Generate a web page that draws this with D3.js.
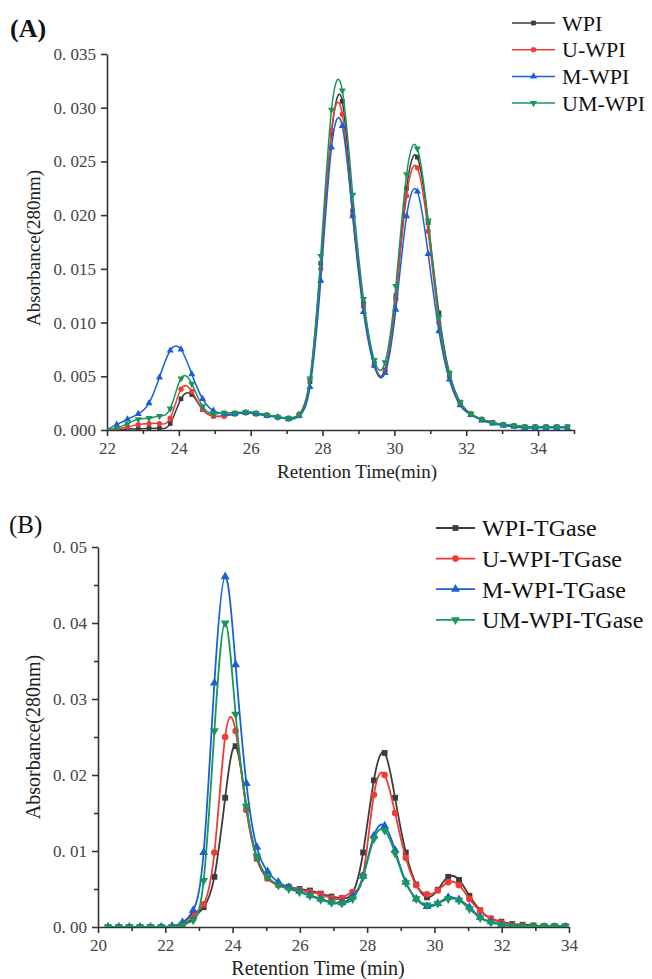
<!DOCTYPE html>
<html><head><meta charset="utf-8">
<script src="https://cdn.jsdelivr.net/npm/d3@7/dist/d3.min.js"></script>
<style>body{margin:0;background:#fff}svg{display:block}</style>
</head><body>
<svg id="c" width="652" height="979"></svg>
<script>
// ---------- Panel A data ----------
const timesA = [21.97,22.27,22.57,22.87,23.17,23.46,23.76,24.06,24.36,24.66,24.96,25.26,25.56,25.86,26.15,26.45,26.75,27.05,27.35,27.65,27.95,28.25,28.55,28.84,29.14,29.44,29.74,30.04,30.34,30.64,30.94,31.24,31.53,31.83,32.13,32.43,32.73,33.03,33.33,33.63,33.92,34.22,34.52,34.82];
const wpiA  = [0,0,0.0001,0.0001,0.00015,0.00015,0.0006,0.0029,0.0033,0.0019,0.0013,0.0013,0.0015,0.0016,0.0015,0.0014,0.0012,0.0011,0.0014,0.0045,0.0155,0.0276,0.0306,0.0204,0.0118,0.0062,0.0056,0.0125,0.0225,0.0254,0.0193,0.0109,0.0053,0.0026,0.0015,0.0010,0.0007,0.0005,0.0004,0.0003,0.0003,0.0003,0.0003,0.0003];
const uwpiA = [0,0.0001,0.0003,0.0005,0.0006,0.0006,0.0011,0.0038,0.0036,0.0019,0.0013,0.0013,0.0015,0.0016,0.0015,0.0014,0.0012,0.0011,0.0015,0.0047,0.0150,0.0279,0.0294,0.0200,0.0115,0.0060,0.0055,0.0122,0.0218,0.0244,0.0185,0.0100,0.0050,0.0025,0.0015,0.0010,0.0007,0.0005,0.0004,0.0003,0.0003,0.0003,0.0003,0.0003];
const mwpiA = [0,0.0005,0.0010,0.0015,0.0025,0.0049,0.0074,0.0075,0.0052,0.0029,0.0018,0.0015,0.0015,0.0016,0.0015,0.0013,0.0012,0.0010,0.0013,0.0040,0.0139,0.0263,0.0283,0.0199,0.0110,0.0060,0.0053,0.0112,0.0199,0.0222,0.0164,0.0092,0.0047,0.0023,0.0014,0.0009,0.0006,0.0004,0.0003,0.0002,0.0002,0.0002,0.0002,0.0002];
const umwpiA= [0,0.0002,0.0006,0.0010,0.0011,0.0013,0.0020,0.0048,0.0043,0.0022,0.0015,0.0016,0.0016,0.0017,0.0016,0.0014,0.0012,0.0011,0.0014,0.0048,0.0162,0.0298,0.0316,0.0219,0.0122,0.0065,0.0063,0.0134,0.0238,0.0262,0.0195,0.0105,0.0053,0.0026,0.0015,0.0010,0.0007,0.0005,0.0004,0.0003,0.0003,0.0003,0.0003,0.0003];
const namesA = ["WPI","U-WPI","M-WPI","UM-WPI"];
const xTicksA = [22,24,26,28,30,32,34];
const yTicksA = [0,0.005,0.010,0.015,0.020,0.025,0.030,0.035];

// ---------- Panel B data ----------
const timesB = [20.30,20.62,20.93,21.25,21.56,21.88,22.20,22.51,22.83,23.14,23.46,23.78,24.09,24.41,24.72,25.04,25.36,25.67,25.99,26.30,26.62,26.94,27.25,27.57,27.88,28.20,28.52,28.83,29.15,29.46,29.78,30.10,30.41,30.73,31.04,31.36,31.68,31.99,32.31,32.62,32.94,33.26,33.57,33.89];
const wpiB  = [0,0,0,0,0,0,0,0.0002,0.0012,0.0026,0.0066,0.0170,0.0238,0.0158,0.0090,0.0064,0.0056,0.0053,0.0050,0.0048,0.0044,0.0040,0.0038,0.0045,0.0098,0.0193,0.0229,0.0170,0.0098,0.0056,0.0039,0.0049,0.0066,0.0062,0.0041,0.0022,0.0011,0.0007,0.0004,0.0003,0.0002,0.0001,0.0001,0.0001];
const uwpiB = [0,0,0,0,0,0,0,0.0003,0.0017,0.0030,0.0098,0.0250,0.0258,0.0154,0.0091,0.0064,0.0055,0.0052,0.0049,0.0046,0.0043,0.0038,0.0038,0.0046,0.0068,0.0174,0.0200,0.0150,0.0091,0.0055,0.0043,0.0048,0.0059,0.0055,0.0037,0.0021,0.0011,0.0006,0.0003,0.0002,0.0001,0.0001,0.0001,0.0001];
const mwpiB = [0,0,0,0,0,0,0.0001,0.0006,0.0022,0.0098,0.0321,0.0461,0.0345,0.0189,0.0105,0.0073,0.0059,0.0052,0.0047,0.0042,0.0037,0.0033,0.0032,0.0040,0.0067,0.0120,0.0133,0.0101,0.0059,0.0037,0.0027,0.0031,0.0039,0.0036,0.0026,0.0013,0.0007,0.0003,0.0001,0,0,0,0,0];
const umwpiB= [0,0,0,0,0,0,0,0.0003,0.0009,0.0061,0.0258,0.0400,0.0280,0.0159,0.0093,0.0066,0.0055,0.0050,0.0046,0.0041,0.0036,0.0032,0.0031,0.0037,0.0066,0.0116,0.0127,0.0097,0.0058,0.0037,0.0029,0.0031,0.0037,0.0035,0.0024,0.0012,0.0006,0.0003,0.0001,0.0001,0.0001,0.0001,0.0001,0.0001];
const namesB = ["WPI-TGase","U-WPI-TGase","M-WPI-TGase","UM-WPI-TGase"];
const xTicksB = [20,22,24,26,28,30,32,34];
const yTicksB = [0,0.01,0.02,0.03,0.04,0.05];

const colors = ["#3c3c3c","#ee3b36","#1a5fd4","#17975a"];
const symbols = [d3.symbolSquare, d3.symbolCircle, d3.symbolTriangle, d3.symbolTriangle];
const rotations = [0,0,0,180];

const svg = d3.select("#c");
const SERIF = "'Liberation Serif','Times New Roman',serif";

function panel(cfg){
  const g = svg.append("g");
  const x = d3.scaleLinear().domain(cfg.xDomain).range([cfg.x0, cfg.x1]);
  const y = d3.scaleLinear().domain(cfg.yDomain).range([cfg.y0, cfg.y1]);
  const clipId = "clip"+cfg.id;
  svg.append("clipPath").attr("id",clipId).append("rect")
    .attr("x",cfg.x0).attr("y",cfg.y1-20).attr("width",cfg.x1-cfg.x0+4).attr("height",cfg.y0-cfg.y1+20);

  g.append("g").attr("transform",`translate(0,${cfg.y0})`)
    .call(d3.axisBottom(x).tickValues(cfg.xTicks).tickSize(6).tickSizeOuter(0).tickPadding(6).tickFormat(d3.format("d")));
  const minorX = d3.range(cfg.xDomain[0]+1, cfg.xDomain[1]+0.01, 2);
  g.append("g").attr("transform",`translate(0,${cfg.y0})`)
    .call(d3.axisBottom(x).tickValues(minorX).tickSize(4).tickSizeOuter(0).tickFormat(""))
    .call(a=>a.select(".domain").remove());
  g.append("g").attr("transform",`translate(${cfg.x0},0)`)
    .call(d3.axisLeft(y).tickValues(cfg.yTicks).tickSize(6).tickSizeOuter(0).tickPadding(5)
      .tickFormat(d=>d3.format(cfg.fmt)(d).replace(".",". ")));
  if(cfg.minorY){
    g.append("g").attr("transform",`translate(${cfg.x0},0)`)
      .call(d3.axisLeft(y).tickValues(cfg.minorY).tickSize(4).tickFormat(""))
      .call(a=>a.select(".domain").remove());
  }
  g.selectAll(".domain,.tick line").attr("stroke","#333").attr("stroke-width",1.6);
  g.selectAll(".tick text").attr("font-family",SERIF).attr("font-size",cfg.tickFont).attr("fill","#444");

  g.append("text").attr("x",cfg.xTitleX).attr("y",cfg.xTitleY).attr("text-anchor","middle")
    .attr("font-family",SERIF).attr("font-size",cfg.titleFont).attr("fill","#222").text(cfg.xTitle);
  g.append("text").attr("transform",`translate(${cfg.yTitleX},${cfg.yTitleY}) rotate(-90)`).attr("text-anchor","middle")
    .attr("font-family",SERIF).attr("font-size",cfg.titleFont).attr("fill","#222").text("Absorbance(280nm)");
  g.append("text").attr("x",cfg.labelX).attr("y",cfg.labelY).attr("font-family",SERIF)
    .attr("font-size",cfg.labelFont).attr("font-weight",cfg.labelWeight).attr("fill","#111").text(cfg.label);

  const plot = g.append("g").attr("clip-path",`url(#${clipId})`);
  const line = d3.line().x(d=>x(d[0])).y(d=>y(d[1])).curve(d3.curveNatural);
  cfg.series.forEach((s,i)=>{
    const pts = cfg.times.map((t,k)=>[t,s[k]]);
    plot.append("path").datum(pts).attr("d",line).attr("fill","none")
      .attr("stroke",colors[i]).attr("stroke-width",cfg.lw);
    plot.selectAll(null).data(pts.filter(p=>p[0]>=cfg.xDomain[0])).enter().append("path")
      .attr("d",d3.symbol().type(symbols[i]).size(cfg.msize))
      .attr("transform",d=>`translate(${x(d[0])},${y(d[1])}) rotate(${rotations[i]})`)
      .attr("fill",colors[i]);
  });

  cfg.names.forEach((n,i)=>{
    const ly = cfg.legY + i*cfg.legDy;
    g.append("line").attr("x1",cfg.legX).attr("x2",cfg.legX+cfg.legLen).attr("y1",ly).attr("y2",ly)
      .attr("stroke",colors[i]).attr("stroke-width",cfg.lw);
    g.append("path").attr("d",d3.symbol().type(symbols[i]).size(cfg.msize))
      .attr("transform",`translate(${cfg.legX+cfg.legLen/2},${ly}) rotate(${rotations[i]})`).attr("fill",colors[i]);
    g.append("text").attr("x",cfg.legX+cfg.legLen+7).attr("y",ly).attr("dy","0.35em")
      .attr("font-family",SERIF).attr("font-size",cfg.legFont).attr("fill","#111").text(n);
  });
}

panel({id:"A", xDomain:[22,35], yDomain:[0,0.035], x0:107, x1:574, y0:430, y1:54,
  xTicks:xTicksA, yTicks:yTicksA, fmt:".3f", minorY:null,
  times:timesA, series:[wpiA,uwpiA,mwpiA,umwpiA], names:namesA,
  tickFont:17, titleFont:19, xTitle:"Retention Time(min)", xTitleX:357, xTitleY:478, yTitleX:40, yTitleY:248,
  label:"(A)", labelX:10, labelY:37, labelFont:26, labelWeight:"bold",
  lw:1.5, msize:22, legX:512, legLen:43, legY:23, legDy:26.7, legFont:22});

panel({id:"B", xDomain:[20,34], yDomain:[0,0.05], x0:98, x1:569, y0:927, y1:547,
  xTicks:xTicksB, yTicks:yTicksB, fmt:".2f", minorY:[0.005,0.015,0.025,0.035,0.045],
  times:timesB, series:[wpiB,uwpiB,mwpiB,umwpiB], names:namesB,
  tickFont:17, titleFont:20, xTitle:"Retention Time (min)", xTitleX:318, xTitleY:975, yTitleX:40, yTitleY:737,
  label:"(B)", labelX:9, labelY:533, labelFont:25, labelWeight:"normal",
  lw:1.8, msize:34, legX:436, legLen:39, legY:528, legDy:30.6, legFont:24});
</script>
</body></html>
